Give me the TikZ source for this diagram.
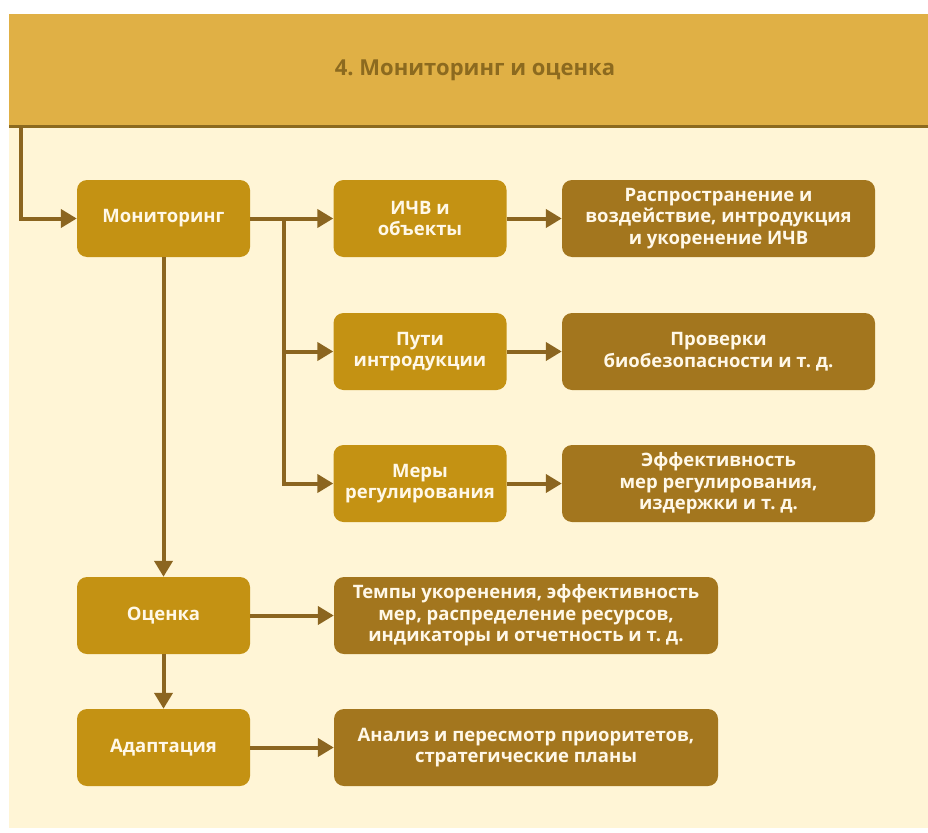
\documentclass[tikz,border=0pt]{standalone}
\usepackage{fontspec}
\setmainfont{Open Sans}
\frenchspacing
\usetikzlibrary{arrows.meta}
\definecolor{headbg}{HTML}{E0B045}
\definecolor{panelbg}{HTML}{FFF5D6}
\definecolor{rulecol}{HTML}{8C6A1F}
\definecolor{stepcol}{HTML}{C49213}
\definecolor{detailcol}{HTML}{A3761E}
\definecolor{arrowcol}{HTML}{8B6520}
\definecolor{textcol}{HTML}{FFF8E8}
\begin{document}
\begin{tikzpicture}[x=1pt, y=-1pt,
	every node/.style = {align=center, inner sep=2pt, text=textcol,
		font=\bfseries\fontsize{18.5}{21.5}\selectfont},
	stepbox/.style = {rectangle, rounded corners=10pt, fill=stepcol,
		minimum width=173pt, minimum height=77pt},
	detailbox/.style = {rectangle, rounded corners=10pt, fill=detailcol,
		minimum height=77pt},
	link/.style = {draw=arrowcol, line width=4pt,
		-{Triangle[length=16pt, width=18pt]}}]
	
	\useasboundingbox (0,0) rectangle (928,832);
	\fill[panelbg] (9,14) rectangle (928,828);
	\fill[headbg] (9,14) rectangle (928,125);
	\draw[rulecol, line width=3.5pt] (9,126.5) -- (928,126.5);
	\node[text=rulecol, font=\bfseries\fontsize{22}{26}\selectfont] (title) at (475,70) {4. Мониторинг и оценка};
	
	\node[stepbox] (mon) at (163.5,218.5) {Мониторинг};
	\node[stepbox] (ichv) at (420,218.5) {ИЧВ и\\объекты};
	\node[stepbox] (puti) at (420,351.5) {Пути\\интродукции};
	\node[stepbox] (mery) at (420,483.5) {Меры\\регулирования};
	\node[detailbox, minimum width=313pt] (spread) at (718.5,218.5) {Распространение и\\воздействие, интродукция\\и укоренение ИЧВ};
	\node[detailbox, minimum width=313pt] (checks) at (718.5,351.5) {Проверки\\биобезопасности и т. д.};
	\node[detailbox, minimum width=313pt] (effect) at (718.5,483.5) {Эффективность\\мер регулирования,\\издержки и т. д.};
	\node[stepbox] (ocen) at (163.5,615.5) {Оценка};
	\node[stepbox] (adap) at (163.5,747.5) {Адаптация};
	\node[detailbox, minimum width=384pt] (rates) at (526,615.5) {Темпы укоренения, эффективность\\мер, распределение ресурсов,\\индикаторы и отчетность и т. д.};
	\node[detailbox, minimum width=384pt] (review) at (526,747.5) {Анализ и пересмотр приоритетов,\\стратегические планы};
	
	\coordinate (start) at (21,127);
	\coordinate (fork) at (284,218.5);
	\draw[link] (start) |- (mon.west);
	\draw[link] (mon.east) -- (ichv.west);
	\draw[link] (fork) |- (puti.west);
	\draw[link] (fork) |- (mery.west);
	\draw[link] (ichv.east) -- (spread.west);
	\draw[link] (puti.east) -- (checks.west);
	\draw[link] (mery.east) -- (effect.west);
	\draw[link] (mon.south) -- (ocen.north);
	\draw[link] (ocen.south) -- (adap.north);
	\draw[link] (ocen.east) -- (rates.west);
	\draw[link] (adap.east) -- (review.west);
\end{tikzpicture}
\end{document}
